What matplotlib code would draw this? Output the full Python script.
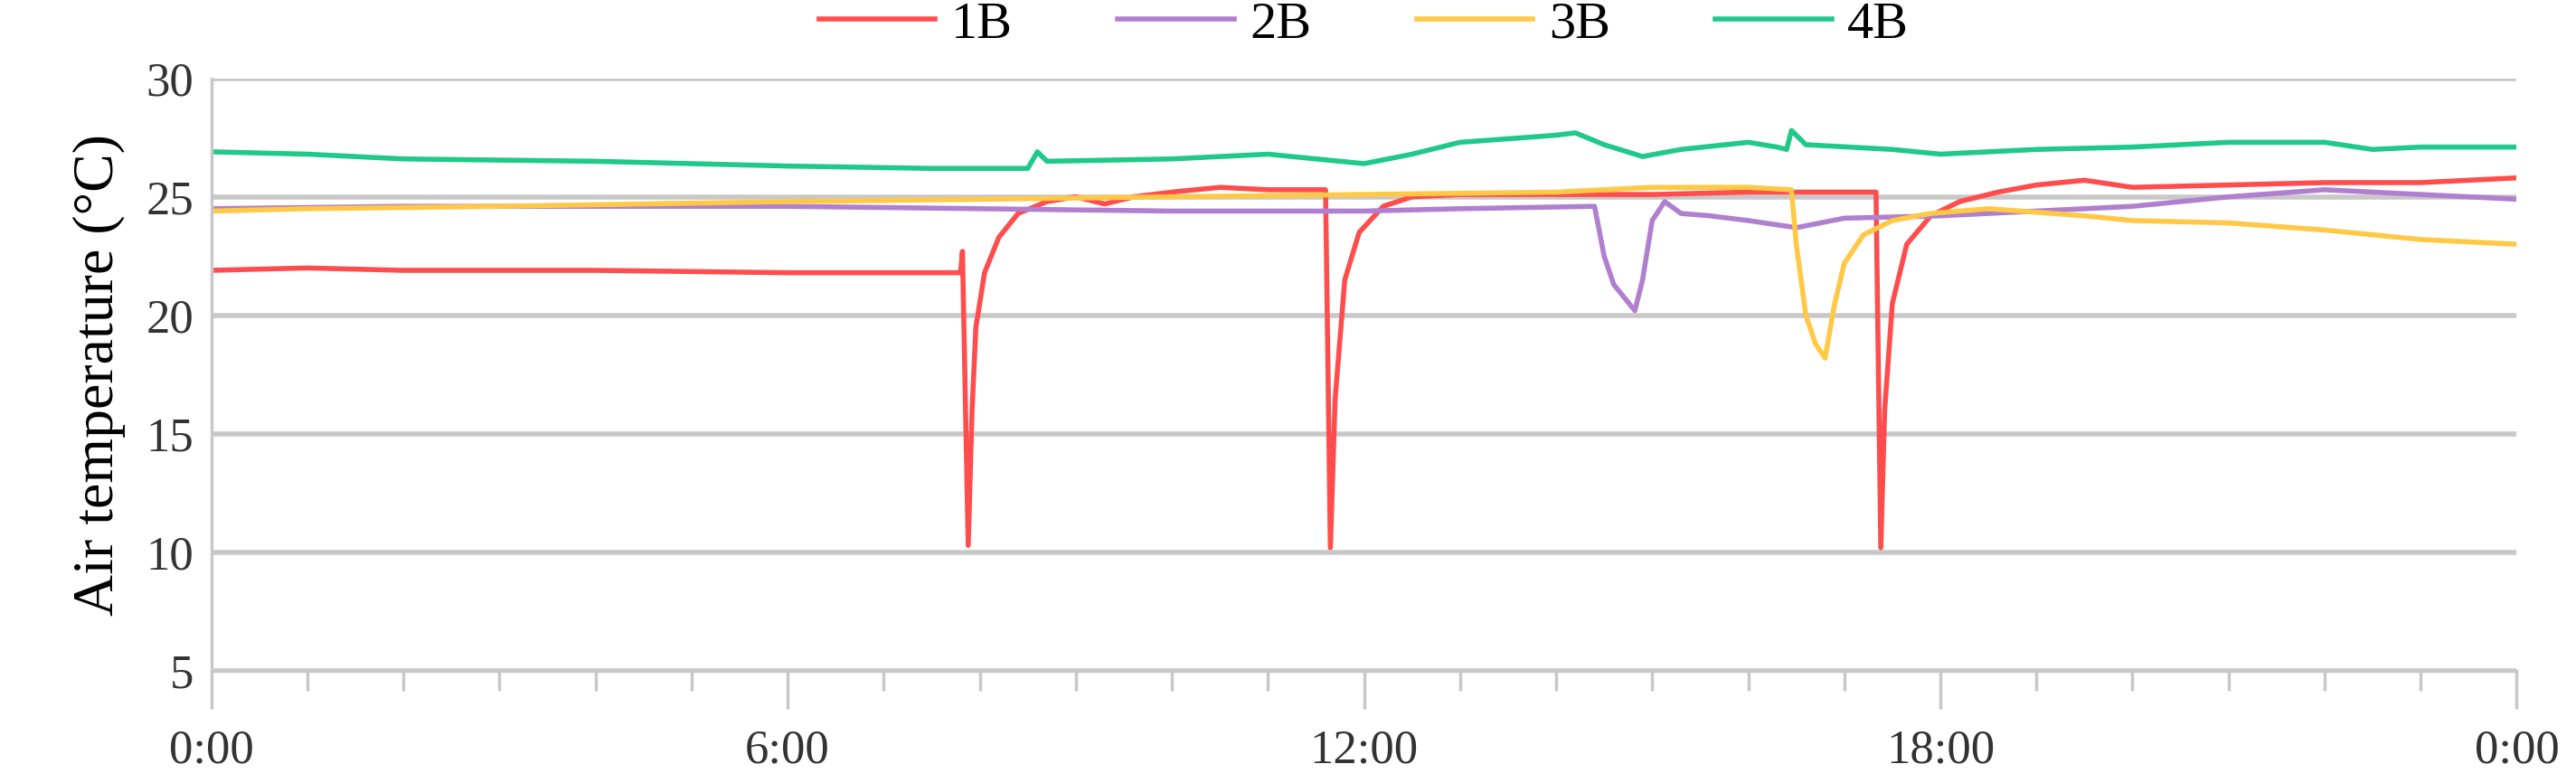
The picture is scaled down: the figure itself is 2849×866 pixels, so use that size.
import matplotlib
matplotlib.use("Agg")
import matplotlib.pyplot as plt
from matplotlib.ticker import MultipleLocator, FixedLocator

plt.rcParams['font.family'] = ['Liberation Serif', 'DejaVu Serif']

t1 = [0, 1, 2, 4, 6, 7.8, 7.82, 7.88, 7.92, 7.96, 8.05, 8.2, 8.4, 8.7, 9.0, 9.3, 9.6, 10.0, 10.5, 11.0, 11.55, 11.6, 11.65, 11.7, 11.8, 11.95, 12.2, 12.5, 13.0, 14, 15, 16, 17.3, 17.33, 17.38, 17.42, 17.5, 17.65, 17.9, 18.2, 18.6, 19.0, 19.5, 20.0, 21.0, 22.0, 23.0, 24.0]
v1 = [21.9, 22.0, 21.9, 21.9, 21.8, 21.8, 22.7, 10.3, 16.0, 19.5, 21.8, 23.3, 24.3, 24.8, 25.0, 24.7, 25.0, 25.2, 25.4, 25.3, 25.3, 25.3, 10.2, 16.5, 21.5, 23.5, 24.6, 25.0, 25.1, 25.1, 25.1, 25.2, 25.2, 25.2, 10.2, 16.0, 20.5, 23.0, 24.2, 24.8, 25.2, 25.5, 25.7, 25.4, 25.5, 25.6, 25.6, 25.8]

t2 = [0, 2, 4, 6, 8, 10, 12, 13, 14.4, 14.5, 14.6, 14.7, 14.82, 14.9, 15.0, 15.13, 15.3, 15.6, 16.0, 16.5, 17.0, 18.0, 19.0, 20.0, 21.0, 22.0, 23.0, 24.0]
v2 = [24.5, 24.6, 24.6, 24.6, 24.5, 24.4, 24.4, 24.5, 24.6, 22.5, 21.3, 20.8, 20.2, 21.5, 24.0, 24.8, 24.3, 24.2, 24.0, 23.7, 24.1, 24.2, 24.4, 24.6, 25.0, 25.3, 25.1, 24.9]

t3 = [0, 1, 3, 6, 8, 10, 12, 14, 15, 16, 16.45, 16.5, 16.6, 16.7, 16.8, 16.9, 17.0, 17.2, 17.5, 17.9, 18.5, 19.5, 20.0, 21.0, 22.0, 23.0, 24.0]
v3 = [24.4, 24.5, 24.6, 24.8, 24.9, 25.0, 25.1, 25.2, 25.4, 25.4, 25.3, 23.0, 20.0, 18.8, 18.2, 20.5, 22.2, 23.4, 24.0, 24.3, 24.5, 24.2, 24.0, 23.9, 23.6, 23.2, 23.0]

t4 = [0, 1, 2, 4, 6, 7.5, 8.5, 8.6, 8.7, 10, 11, 11.5, 12, 12.5, 13, 14, 14.2, 14.5, 14.9, 15.3, 16, 16.3, 16.4, 16.45, 16.6, 17.5, 18, 19, 20, 21, 22, 22.5, 23, 24]
v4 = [26.9, 26.8, 26.6, 26.5, 26.3, 26.2, 26.2, 26.9, 26.5, 26.6, 26.8, 26.6, 26.4, 26.8, 27.3, 27.6, 27.7, 27.2, 26.7, 27.0, 27.3, 27.1, 27.0, 27.8, 27.2, 27.0, 26.8, 27.0, 27.1, 27.3, 27.3, 27.0, 27.1, 27.1]

labels = ['1B', '2B', '3B', '4B']
colors = ['#ff4d4d', '#b07fd0', '#ffc845', '#1ec98a']
xticklabels = ['0:00', '6:00', '12:00', '18:00', '0:00']

fig = plt.figure(figsize=(28.49, 8.66), dpi=100)
ax = fig.add_axes([0.082, 0.143, 0.895, 0.757])
for t, v, lab, c in zip([t1, t2, t3, t4], [v1, v2, v3, v4], labels, colors):
    ax.plot(t, v, color=c, lw=4, label=lab)

ax.set_xlim(0, 24)
ax.set_ylim(5, 30)
ax.yaxis.set_major_locator(MultipleLocator(5))
ax.xaxis.set_major_locator(FixedLocator([0, 6, 12, 18, 24]))
ax.xaxis.set_minor_locator(MultipleLocator(1))
ax.set_xticklabels(xticklabels)
ax.grid(axis='y', color='#c8c8c8', lw=4)
ax.set_axisbelow(True)
for s in ['top', 'right']:
    ax.spines[s].set_visible(False)
ax.spines['left'].set_color('#c8c8c8')
ax.spines['bottom'].set_color('#c8c8c8')
ax.spines['left'].set_linewidth(2.5)
ax.spines['bottom'].set_linewidth(2.5)
ax.tick_params(axis='y', length=0, labelsize=38, pad=14, colors='#333333')
ax.tick_params(axis='x', which='major', length=30, width=2.5, color='#c8c8c8', labelsize=38, pad=16, labelcolor='#333333')
ax.tick_params(axis='x', which='minor', length=16, width=2.5, color='#c8c8c8')
ax.set_ylabel('Air temperature (°C)', fontsize=46, labelpad=16)
ax.legend(loc='lower center', bbox_to_anchor=(0.5, 0.97), ncol=4, frameon=False,
          fontsize=42, handlelength=2.2, columnspacing=2.0, handletextpad=0.3)
fig.savefig('out.png', dpi=100)
